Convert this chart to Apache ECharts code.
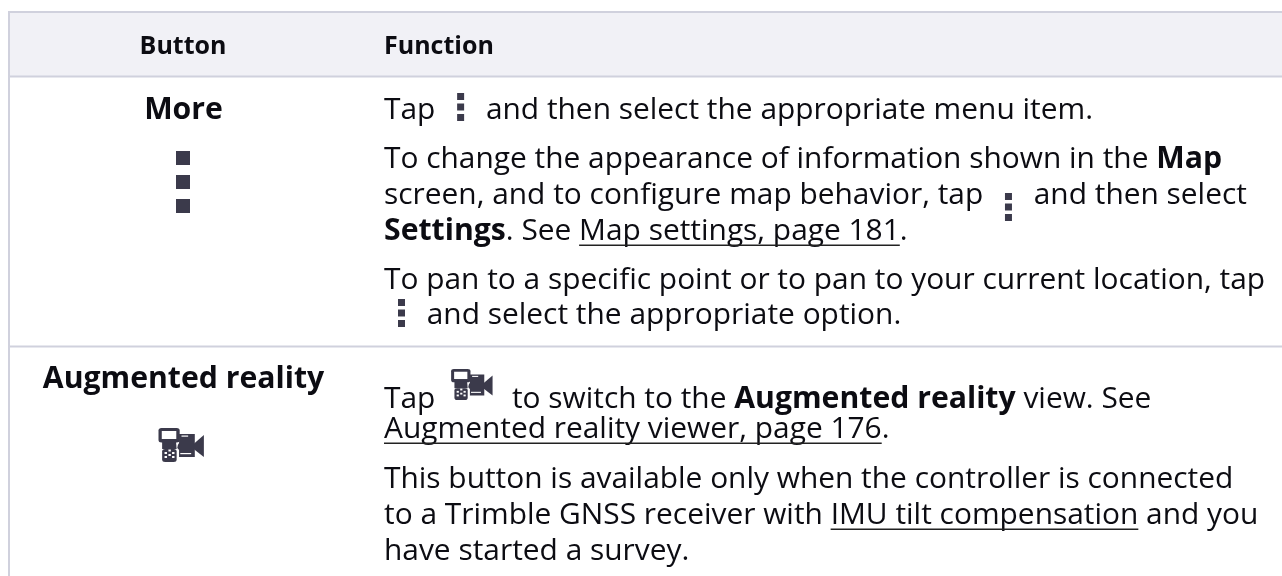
<!DOCTYPE html>
<html>
<head>
<meta charset="utf-8">
<title>Button table</title>
<script src="https://cdn.jsdelivr.net/npm/echarts@6/dist/echarts.min.js"></script>
<style>
html,body{margin:0;padding:0;background:#fff}
#main{width:1282px;height:576px}
</style>
</head>
<body>
<div id="main"></div>
<script>
// table content. b = bold, u = underlined link, dots / cam = inline icon
const headers = ['Button', 'Function']
const buttonNames = ['More', 'Augmented reality']
const moreLines = [
    [['Tap '], ['dots'], [' and then select the appropriate menu item.']],
    [['To change the appearance of information shown in the '], ['Map', 'b']],
    [['screen, and to configure map behavior, tap '], ['dots'], [' and then select']],
    [['Settings', 'b'], ['. See '], ['Map settings, page 181', 'u'], ['.']],
    [['To pan to a specific point or to pan to your current location, tap']],
    [['dots'], [' and select the appropriate option.']]
]
const arLines = [
    [['Tap '], ['cam'], [' to switch to the '], ['Augmented reality', 'b'], [' view. See']],
    [['Augmented reality viewer, page 176', 'u'], ['.']],
    [['This button is available only when the controller is connected']],
    [['to a Trimble GNSS receiver with '], ['IMU tilt compensation', 'u'], [' and you']],
    [['have started a survey.']]
]

const FONT = '"Open Sans"'
const BODY_SIZE = 29.9
const BOLD_SIZE = 30.2
const HEAD_SIZE = 25
const TEXT_COLOR = '#0c0c12'
const ICON_COLOR = '#3b3a4b'
const LINE_COLOR = '#d0d1dd'

const ctx = document.createElement('canvas').getContext('2d')
function textWidth(str, bold, size){
    ctx.font = (bold ? 'bold ' : '') + size + 'px ' + FONT
    return ctx.measureText(str).width
}

// y is the baseline; zrender text hangs from its top so shift it up
function label(str, x, y, bold, size, align){
    return {
        type: 'text',
        x: x,
        y: y - size * 0.73,
        style: {
            text: str,
            fill: TEXT_COLOR,
            font: (bold ? 'bold ' : '') + size + 'px ' + FONT,
            align: align || 'left'
        }
    }
}

function box(x, y, w, h, fill, r){
    return { type: 'rect', shape: { x: x, y: y, width: w, height: h, r: r || 0 }, style: { fill: fill } }
}

// three stacked squares
function dotsIcon(x, y, w, h, gap){
    return [0, 1, 2].map(i => box(x, y + i * (h + gap), w, h, ICON_COLOR))
}

// controller + video camera, drawn in a 38 x 34 box then scaled
function camIcon(x, y, sx, sy){
    const light = '#ffffff'
    return {
        type: 'group',
        x: x,
        y: y,
        scaleX: sx,
        scaleY: sy,
        children: [
            box(0, 0, 17.5, 14.5, ICON_COLOR, 2.5),
            box(2.7, 3, 12, 8, light),
            { type: 'polygon', shape: { points: [[3, 14], [14.5, 14], [15, 21], [3, 21]] }, style: { fill: ICON_COLOR } },
            box(3, 21, 12, 13, ICON_COLOR, 2.5),
            box(5, 24, 2, 2, light), box(8.2, 21.5, 2, 2, light), box(11.2, 24, 2, 2, light),
            box(5, 28, 2, 2, light), box(8.2, 26, 2, 2, light), box(11.2, 28, 2, 2, light),
            { type: 'polygon', shape: { points: [[17, 6], [30, 6], [30, 29], [17, 29], [17, 22], [15.5, 20], [16, 17], [17, 15]] }, style: { fill: ICON_COLOR } },
            box(19, 7.5, 5.5, 1.2, light),
            box(18, 25, 9, 1.2, light),
            { type: 'polygon', shape: { points: [[29, 16], [37.5, 7], [37.5, 29], [29, 21]] }, style: { fill: ICON_COLOR } }
        ]
    }
}

// flows the runs of one line left to right, icons take a fixed slot
function drawLine(runs, x, baseline, out, dotTop){
    runs.forEach(run => {
        const [str, kind] = run
        if(str === 'dots'){
            out.push(...dotsIcon(x + 14, baseline + dotTop, 7, 7, 3.5))
            x += 35
        }else if(str === 'cam'){
            out.push(camIcon(x + 8, baseline - 37, 1.105, 0.912))
            x += 61
        }else{
            const bold = kind === 'b'
            const size = bold ? BOLD_SIZE : BODY_SIZE
            out.push(label(str, x, baseline, bold, size))
            const w = textWidth(str, bold, size)
            if(kind === 'u'){
                out.push(box(x, baseline + 6.5, w, 1.5, '#222'))
            }
            x += w
        }
    })
}

function buildElements(){
    const out = []
    // header band and rules
    out.push(box(9, 13, 1273, 63, '#f1f1f6'))
    out.push(box(8, 11, 1274, 2, LINE_COLOR))
    out.push(box(8, 75.5, 1274, 2, LINE_COLOR))
    out.push(box(8, 345.5, 1274, 2, LINE_COLOR))
    out.push(box(8, 11, 2, 565, LINE_COLOR))

    out.push(label(headers[0], 183, 53, true, HEAD_SIZE, 'center'))
    out.push(label(headers[1], 384, 53, true, HEAD_SIZE))

    out.push(label(buttonNames[0], 183.5, 117, true, BOLD_SIZE, 'center'))
    out.push(label(buttonNames[1], 183.5, 386, true, BOLD_SIZE, 'center'))
    out.push(...dotsIcon(176, 151, 14, 14, 10))
    out.push(camIcon(158.5, 428, 1.21, 1))

    const moreBase = [117, 166, 202, 238, 287, 322]
    const moreDotTop = [-24, 0, -9, 0, 0, -23]
    const arBase = [406, 436, 486, 522, 558]
    moreLines.forEach((runs, i) => drawLine(runs, 384, moreBase[i], out, moreDotTop[i]))
    arLines.forEach((runs, i) => drawLine(runs, 384, arBase[i], out, 0))
    return out
}

const chart = echarts.init(document.getElementById('main'))
chart.setOption({
    backgroundColor: '#ffffff',
    animation: false,
    graphic: { elements: buildElements() }
})
</script>
</body>
</html>
